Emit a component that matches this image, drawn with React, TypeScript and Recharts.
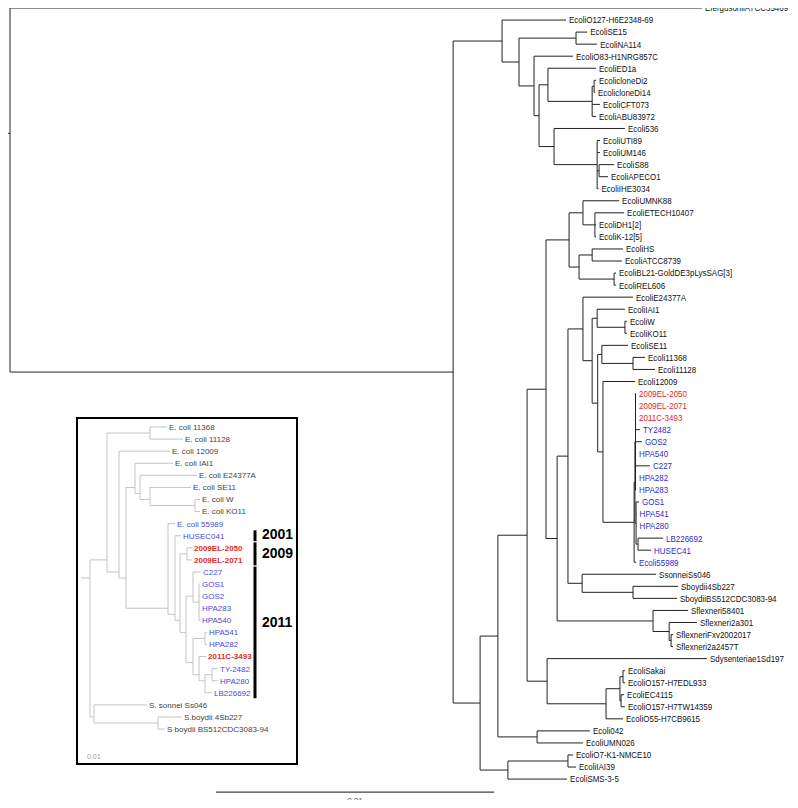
import React from 'react';
import { ComposedChart, Scatter, XAxis, YAxis, ReferenceLine } from 'recharts';

// ---------- main tree (depth in 1e-4 substitutions/site, rows top to bottom) ----------
const mainLeaves = [
  'EfergusoniiATCC35469T', 'EcoliO127-H6E2348-69', 'EcoliSE15', 'EcoliNA114', 'EcoliO83-H1NRG857C',
  'EcoliED1a', 'EcolicloneDi2', 'EcolicloneDi14', 'EcoliCFT073', 'EcoliABU83972',
  'Ecoli536', 'EcoliUTI89', 'EcoliUM146', 'EcoliS88', 'EcoliAPECO1',
  'EcoliIHE3034', 'EcoliUMNK88', 'EcoliETECH10407', 'EcoliDH1[2]', 'EcoliK-12[5]',
  'EcoliHS', 'EcoliATCC8739', 'EcoliBL21-GoldDE3pLysSAG[3]', 'EcoliREL606', 'EcoliE24377A',
  'EcoliIAI1', 'EcoliW', 'EcoliKO11', 'EcoliSE11', 'Ecoli11368',
  'Ecoli11128', 'Ecoli12009', '2009EL-2050', '2009EL-2071', '2011C-3493',
  'TY2482', 'GOS2', 'HPA540', 'C227', 'HPA282',
  'HPA283', 'GOS1', 'HPA541', 'HPA280', 'LB226692',
  'HUSEC41', 'Ecoli55989', 'SsonneiSs046', 'Sboydii4Sb227', 'SboydiiBS512CDC3083-94',
  'Sflexneri58401', 'Sflexneri2a301', 'SflexneriFxv2002017', 'Sflexneri2a2457T', 'Sdysenteriae1Sd197',
  'EcoliSakai', 'EcoliO157-H7EDL933', 'EcoliEC4115', 'EcoliO157-H7TW14359', 'EcoliO55-H7CB9615',
  'Ecoli042', 'EcoliUMN026', 'EcoliO7-K1-NMCE10', 'EcoliIAI39', 'EcoliSMS-3-5',
];

const mainTips = [
  248.9, 200.0, 207.6, 211.2, 202.5,
  210.8, 210.8, 210.4, 212.2, 210.8,
  221.2, 212.2, 212.2, 217.3, 215.1,
  211.7, 219.1, 220.9, 210.8, 210.8,
  220.5, 220.1, 218.0, 218.0, 224.1,
  221.2, 221.9, 221.9, 222.3, 228.4,
  232.0, 224.8, 225.2, 225.2, 225.2,
  226.6, 227.3, 225.2, 230.2, 225.2,
  225.2, 226.3, 225.4, 225.4, 234.9,
  230.6, 225.2, 232.4, 240.3, 239.9,
  243.9, 247.1, 238.5, 238.5, 250.7,
  221.2, 221.2, 220.9, 221.2, 220.5,
  208.6, 206.1, 202.5, 203.6, 200.4,
];

// k = black, r = 2009/2011 outbreak, b = related O104 strains
const mainGroups = [
  'k', 'k', 'k', 'k', 'k', 'k', 'k', 'k', 'k', 'k',
  'k', 'k', 'k', 'k', 'k', 'k', 'k', 'k', 'k', 'k',
  'k', 'k', 'k', 'k', 'k', 'k', 'k', 'k', 'k', 'k',
  'k', 'k', 'r', 'r', 'r', 'b', 'b', 'b', 'b', 'b',
  'b', 'b', 'b', 'b', 'b', 'b', 'b', 'k', 'k', 'k',
  'k', 'k', 'k', 'k', 'k', 'k', 'k', 'k', 'k', 'k',
  'k', 'k', 'k', 'k', 'k',
];

type Kid = string | number;
type TreeNode = [string, number, Kid[]];

// [node, depth, children] — numbers are leaf rows
const mainNodes: TreeNode[] = [
  ['root', 0, [0, 'A']],
  ['A', 159.4, ['B', 'P']],
  ['B', 177.0, [1, 'C']],
  ['C', 183.1, ['D', 'E']],
  ['D', 203.6, [2, 3]],
  ['E', 188.5, [4, 'F']],
  ['F', 190.3, ['G', 'J']],
  ['G', 193.5, [5, 'H']],
  ['H', 209.4, ['I', 8, 9]],
  ['I', 210.1, [6, 7]],
  ['J', 195.7, [10, 'K']],
  ['K', 211.2, [11, 12, 'N', 15]],
  ['N', 211.9, [13, 14]],
  ['P', 169.1, ['Q', 'S']],
  ['Q', 175.5, ['U', 'V']],
  ['U', 186.0, ['W', 'X']],
  ['W', 192.8, ['AA', 'AB']],
  ['AA', 201.1, ['AC', 'AD']],
  ['AC', 206.1, [16, 'AE']],
  ['AE', 210.4, [17, 18, 19]],
  ['AD', 204.7, ['AF', 'AG']],
  ['AF', 209.4, [20, 21]],
  ['AG', 217.3, [22, 23]],
  ['AB', 196.8, ['AH', 'AI']],
  ['AH', 200.7, ['AM', 'AL']],
  ['AM', 206.1, [24, 'AO']],
  ['AO', 209.4, ['AP', 'AS']],
  ['AP', 211.2, [25, 'AV']],
  ['AV', 221.2, [26, 27]],
  ['AS', 211.4, ['AR', 'AU']],
  ['AR', 212.9, [28, 'AW']],
  ['AW', 224.1, [29, 30]],
  ['AU', 213.3, [31, 'AX']],
  ['AX', 224.5, ['AY', 46]],
  ['AY', 224.8, ['AZ', 'BA']],
  ['AZ', 225.0, [32, 33, 34, 35, 36, 37, 38, 39, 40]],
  ['BA', 225.2, [41, 42, 43, 'LB']],
  ['LB', 225.9, [44, 45]],
  ['AL', 205.8, [47, 'AN']],
  ['AN', 224.1, [48, 49]],
  ['AI', 231.3, [50, 'AJ']],
  ['AJ', 237.1, [51, 'AK']],
  ['AK', 237.8, [52, 53]],
  ['X', 193.2, [54, 'Y']],
  ['Y', 214.4, ['Z', 59]],
  ['Z', 219.4, ['Z1', 'Z2']],
  ['Z1', 220.5, [55, 56]],
  ['Z2', 219.8, [57, 58]],
  ['V', 189.6, [60, 61]],
  ['S', 179.1, ['T', 64]],
  ['T', 200.7, [62, 63]],
];
const mainRootStub = 3.6;
const mainRootRow = 10.4;
const mainScaleBar = [74.1, 174.1]; // 0.01

// ---------- inset tree (depth in arbitrary units, rows top to bottom) ----------
const insetLeaves = [
  'E. coli 11368', 'E. coli 11128', 'E. coli 12009', 'E. coli IAI1', 'E. coli E24377A',
  'E. coli SE11', 'E. coli W', 'E. coli KO11', 'E. coli 55989', 'HUSEC041',
  '2009EL-2050', '2009EL-2071', 'C227', 'GOS1', 'GOS2',
  'HPA283', 'HPA540', 'HPA541', 'HPA282', '2011C-3493',
  'TY-2482', 'HPA280', 'LB226692', 'S. sonnei Ss046', 'S.boydii 4Sb227',
  'S boydii BS512CDC3083-94',
];
const insetTips = [
  77, 93, 80, 83, 107,
  101, 110, 110, 85, 91,
  102, 102, 111, 110, 110,
  110, 110, 117, 117, 116,
  128, 128, 122, 57, 92,
  75,
];
const insetGroups = [
  'k', 'k', 'k', 'k', 'k', 'k', 'k', 'k', 'b', 'b',
  'r', 'r', 'b', 'b', 'b', 'b', 'b', 'b', 'b', 'r',
  'b', 'b', 'b', 'k', 'k', 'k',
];
const insetNodes: TreeNode[] = [
  ['root', 0, ['E', 'SH']],
  ['E', 17, ['P1', 'N119']],
  ['P1', 60, [0, 1]],
  ['N119', 29, [2, 'N126']],
  ['N126', 36, ['N135', 'O104']],
  ['N135', 45, [3, 'N140']],
  ['N140', 50, [4, 'N150']],
  ['N150', 60, [5, 'P2']],
  ['P2', 105, [6, 7]],
  ['O104', 78, [8, 'N175']],
  ['N175', 85, [9, 'N180']],
  ['N180', 90, ['PEL', 'N2011']],
  ['PEL', 97, [10, 11]],
  ['N2011', 96, ['A2011', 'B2011']],
  ['A2011', 103, [12, 'G']],
  ['G', 109, [13, 14, 15, 16]],
  ['B2011', 103, ['P205', 'N199']],
  ['P205', 115, [17, 18]],
  ['N199', 109, [19, 'N205']],
  ['N205', 115, ['P212', 22]],
  ['P212', 122, [20, 21]],
  ['SH', 4, [23, 'SB']],
  ['SB', 68, [24, 25]],
];
const insetRootStub = 9;

const yearLabels = ['2001', '2009', '2011'];
const yearFirstRow = [9, 10, 12];
const yearLastRow = [9, 11, 22];
const yearTextRow = [8.85, 10.45, 16.1];
const yearDepth = 165;

// ---------- helpers ----------
type Seg = { x1: number; y1: number; x2: number; y2: number };

// mode 'mid': node sits halfway between first and last child
// mode 'mean': node sits at the mean row of all its leaves
function layout(nodes: TreeNode[], tips: number[], mode: 'mid' | 'mean') {
  const byId: Record<string, TreeNode> = {};
  nodes.forEach(n => (byId[n[0]] = n));
  const segs: Seg[] = [];
  const place = (k: Kid): { x: number; y: number; n: number; s: number } => {
    if (typeof k === 'number') return { x: tips[k], y: k, n: 1, s: k };
    const [, x, kids] = byId[k];
    const pts = kids.map(place);
    pts.forEach(p => {
      if (p.x > x) segs.push({ x1: x, y1: p.y, x2: p.x, y2: p.y });
    });
    segs.push({ x1: x, y1: pts[0].y, x2: x, y2: pts[pts.length - 1].y });
    const n = pts.reduce((a, p) => a + p.n, 0);
    const s = pts.reduce((a, p) => a + p.s, 0);
    const y = mode === 'mean' ? s / n : (pts[0].y + pts[pts.length - 1].y) / 2;
    return { x, y, n, s };
  };
  const root = place('root');
  return { segs, rootY: root.y };
}

const FONT = 'Arial, "Liberation Sans", sans-serif';

const mainColor: Record<string, string> = { k: '#111', r: '#e5232b', b: '#2b2bd6' };
const insetColor: Record<string, string> = { k: '#444', r: '#e02a2a', b: '#4a4ad8' };

const mainTree = layout(mainNodes, mainTips, 'mid');
const insetTree = layout(insetNodes, insetTips, 'mean');

const mainLabelData = mainLeaves.map((name, i) => ({ x: mainTips[i], y: i, name, g: mainGroups[i] }));
const insetLabelData = insetLeaves.map((name, i) => ({ x: insetTips[i], y: i, name, g: insetGroups[i] }));
const yearData = yearLabels.map((name, i) => ({ x: yearDepth, y: yearTextRow[i], name }));

const MainLabel = (props: any) => {
  const { cx, cy, payload } = props;
  return (
    <text
      transform={`translate(${cx + 3},${cy + 3.4}) scale(0.84,1)`}
      fontSize={9.5}
      fontFamily={FONT}
      fill={mainColor[payload.g]}
    >
      {payload.name}
    </text>
  );
};

const InsetLabel = (props: any) => {
  const { cx, cy, payload } = props;
  return (
    <text
      x={cx + 2}
      y={cy + 2.9}
      fontSize={8}
      fontFamily={FONT}
      fontWeight={payload.g === 'r' ? 'bold' : 'normal'}
      fill={insetColor[payload.g]}
    >
      {payload.name}
    </text>
  );
};

const YearLabel = (props: any) => {
  const { cx, cy, payload } = props;
  return (
    <text x={cx + 7} y={cy + 5} fontSize={14} fontWeight="bold" fontFamily={FONT} fill="#000">
      {payload.name}
    </text>
  );
};

const seg = (s: Seg) => [
  { x: s.x1, y: s.y1 },
  { x: s.x2, y: s.y2 },
];

export default function App() {
  return (
    <div style={{ position: 'relative', width: 798, height: 808, margin: -8, background: '#fff' }}>
      <ComposedChart width={798} height={808} margin={{ top: 0, right: 0, bottom: 0, left: 0 }}>
        <XAxis type="number" dataKey="x" domain={[-3.6, 283.45]} hide allowDataOverflow />
        <YAxis type="number" dataKey="y" domain={[-0.664, 66.4]} reversed hide allowDataOverflow />
        {mainTree.segs.map((s, i) => (
          <ReferenceLine key={i} segment={seg(s)} stroke="#222" strokeWidth={1} ifOverflow="visible" />
        ))}
        <ReferenceLine
          segment={[{ x: -mainRootStub, y: mainRootRow }, { x: 0, y: mainRootRow }]}
          stroke="#222"
          ifOverflow="visible"
        />
        <ReferenceLine
          segment={[{ x: mainScaleBar[0], y: 65.08 }, { x: mainScaleBar[1], y: 65.08 }]}
          stroke="#111"
          strokeWidth={1}
          ifOverflow="visible"
          label={{ value: '0.01', position: 'bottom', offset: 5, fontSize: 8, fill: '#555', fontFamily: FONT }}
        />
        <Scatter data={mainLabelData} shape={MainLabel} isAnimationActive={false} />
      </ComposedChart>

      <div
        style={{
          position: 'absolute',
          left: 76,
          top: 417,
          width: 218,
          height: 344,
          border: '2px solid #000',
          background: '#fff',
        }}
      >
        <ComposedChart width={218} height={344} margin={{ top: 0, right: 0, bottom: 0, left: 0 }}>
          <XAxis type="number" dataKey="x" domain={[-12, 206]} hide allowDataOverflow />
          <YAxis type="number" dataKey="y" domain={[-0.662, 27.81]} reversed hide allowDataOverflow />
          {insetTree.segs.map((s, i) => (
            <ReferenceLine key={i} segment={seg(s)} stroke="#c4c4c4" strokeWidth={1} ifOverflow="visible" />
          ))}
          <ReferenceLine
            segment={[{ x: -insetRootStub, y: insetTree.rootY }, { x: 0, y: insetTree.rootY }]}
            stroke="#c4c4c4"
            ifOverflow="visible"
          />
          {yearLabels.map((y, i) => (
            <ReferenceLine
              key={y}
              segment={[
                { x: yearDepth, y: yearFirstRow[i] - 0.45 },
                { x: yearDepth, y: yearLastRow[i] + 0.45 },
              ]}
              stroke="#000"
              strokeWidth={3}
              ifOverflow="visible"
            />
          ))}
          <Scatter data={insetLabelData} shape={InsetLabel} isAnimationActive={false} />
          <Scatter data={yearData} shape={YearLabel} isAnimationActive={false} />
          <ReferenceLine
            segment={[{ x: -8, y: 27.3 }, { x: 30, y: 27.3 }]}
            stroke="transparent"
            ifOverflow="visible"
            label={{ value: '0.01', position: 'insideLeft', fontSize: 7, fill: '#999', fontFamily: FONT }}
          />
        </ComposedChart>
      </div>
    </div>
  );
}
